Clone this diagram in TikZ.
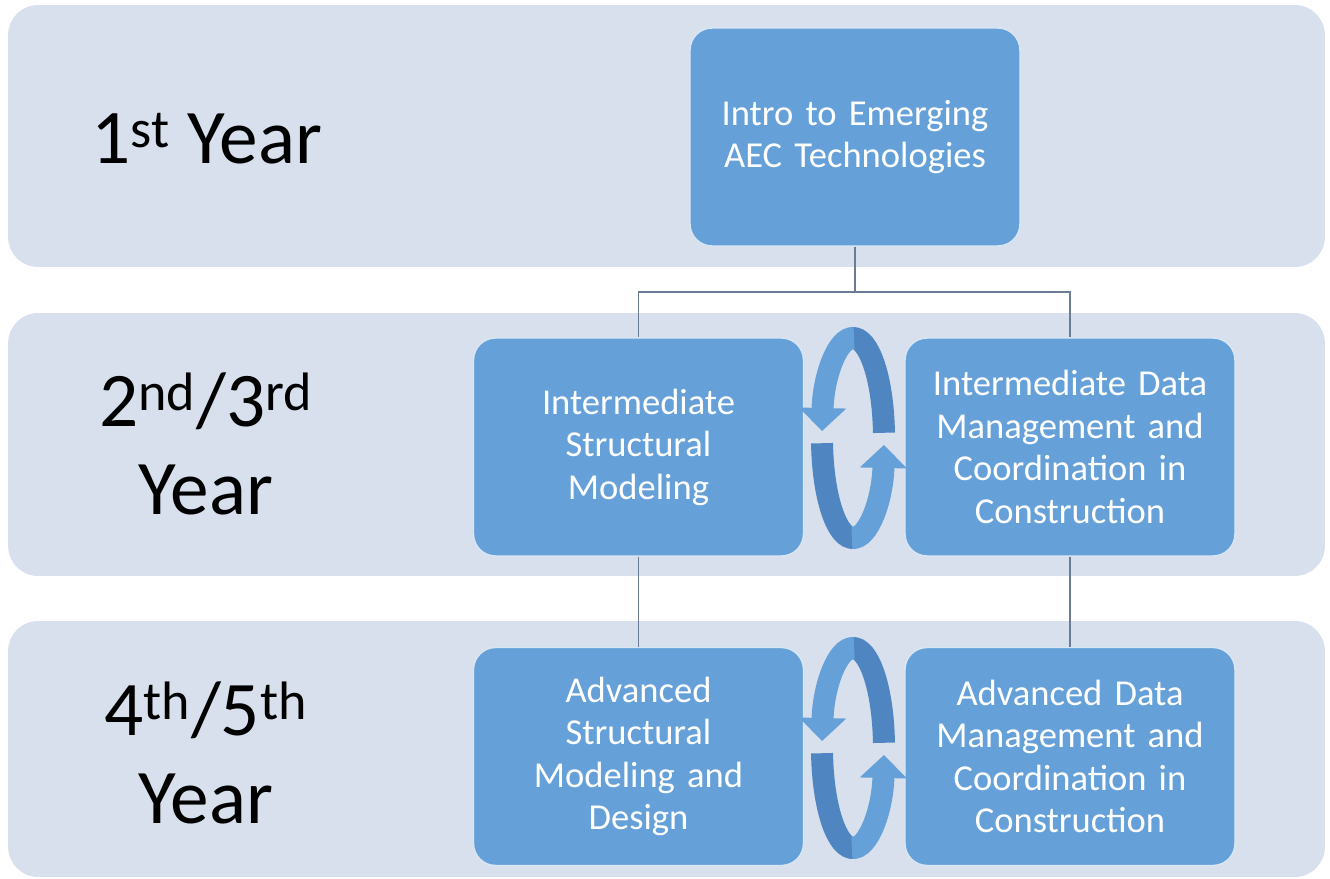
\documentclass[tikz,border=0pt]{standalone}
\usepackage{fontspec}
\setmainfont{Carlito}
\usetikzlibrary{arrows.meta,calc}
\definecolor{bandgray}{HTML}{D7E0EC}
\definecolor{boxblue}{HTML}{65A1D8}
\definecolor{cycblue}{HTML}{66A0D8}
\definecolor{cycdark}{HTML}{4F86C2}
\definecolor{linegray}{HTML}{6B7C92}
\begin{document}
\begin{tikzpicture}[x=0.02cm, y=-0.02cm,
    band/.style={fill=bandgray, rounded corners=0.6cm, minimum width=26.34cm, inner sep=0pt},
    course/.style={fill=boxblue, draw=white!75!boxblue, line width=0.8pt, rounded corners=0.44cm,
        minimum width=6.6cm, minimum height=4.36cm, text width=6.3cm, align=center,
        text=white, font=\fontsize{20.8}{24.2}\selectfont},
    year/.style={align=center, font=\fontsize{44}{50}\selectfont},
    link/.style={draw=linegray, line width=0.9pt},
    cycle/.style={draw=cycblue, line width=0.44cm, -{Triangle[width=0.92cm, length=0.46cm]}},
    cycleback/.style={draw=cycdark, line width=0.44cm}]
    \useasboundingbox (0,0) rectangle (1330,879);
    % year bands
    \node at (666.5,136) [band, minimum height=5.24cm] (band1) {};
    \node at (666.5,444.5) [band, minimum height=5.26cm] (band2) {};
    \node at (666.5,749) [band, minimum height=5.12cm] (band3) {};
    \node at (207,139) [year] (y1) {1\textsuperscript{st} Year};
    \node at (206,444) [year] (y23) {2\textsuperscript{nd}/3\textsuperscript{rd}\\Year};
    \node at (206,753) [year] (y45) {4\textsuperscript{th}/5\textsuperscript{th}\\Year};
    % courses
    \node at (855,137) [course] (intro) {Intro to Emerging\\AEC Technologies};
    \node at (638.5,447) [course] (ism) {Intermediate\\Structural\\Modeling};
    \node at (1070,447) [course] (idm) {Intermediate Data\\Management and\\Coordination in\\Construction};
    \node at (638.5,756.5) [course] (asm) {Advanced\\Structural\\Modeling and\\Design};
    \node at (1070,756.5) [course] (adm) {Advanced Data\\Management and\\Coordination in\\Construction};
    % connectors
    \coordinate (split) at (855,292);
    \draw [link] (intro) -- (split) -| (ism);
    \draw [link] (split) -| (idm);
    \draw [link] (ism) -- (asm);
    \draw [link] (idm) -- (adm);
    % cycle arrows
    \coordinate (cyc1) at (853,438);
    \coordinate (cyc2) at (853,748);
    \foreach \c in {cyc1,cyc2}{
        \draw [cycleback] ($(\c)+(3:0.62cm and 2.0cm)$) arc[start angle=3, end angle=92, x radius=0.62cm, y radius=2.0cm];
        \draw [cycle] ($(\c)+(88:0.62cm and 2.0cm)$) arc[start angle=88, end angle=176, x radius=0.62cm, y radius=2.0cm];
        \draw [cycleback] ($(\c)+(183:0.62cm and 2.0cm)$) arc[start angle=183, end angle=272, x radius=0.62cm, y radius=2.0cm];
        \draw [cycle] ($(\c)+(268:0.62cm and 2.0cm)$) arc[start angle=268, end angle=356, x radius=0.62cm, y radius=2.0cm];
    }
\end{tikzpicture}
\end{document}
